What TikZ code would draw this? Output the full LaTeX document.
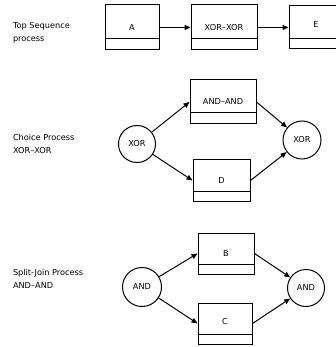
\documentclass[tikz,border=0pt]{standalone}
\usepackage{fontspec}
\setmainfont{DejaVu Sans}
\usetikzlibrary{arrows.meta}
\begin{document}
\begin{tikzpicture}[x=1pt,y=-1pt,
  font=\fontsize{8.2}{13}\selectfont,
  line width=1pt,
  task/.style={draw, rectangle, inner sep=0pt,
    path picture={\draw[line width=1pt] ([yshift=#1]path picture bounding box.south west) -- ([yshift=#1]path picture bounding box.south east);}},
  task/.default=11pt,
  gate/.style={draw, circle, inner sep=0pt, minimum size=38pt},
  arr/.style={-{Triangle[length=6pt,width=5pt]}},
  desc/.style={align=left, anchor=west, inner sep=0pt}]
\useasboundingbox (0,0) rectangle (335,347);

% left descriptions
\node[desc] (t1) at (12.5,32.5) {Top Sequence\\process};
\node[desc] (t2) at (12.5,143.5) {Choice Process\\XOR--XOR};
\node[desc] (t3) at (12.5,278.5) {Split-Join Process\\AND--AND};

% top sequence
\node[task, minimum width=54pt, minimum height=45pt] (A) at (132,27.5) {A};
\node[task, minimum width=66pt, minimum height=45pt] (XX) at (224,27.5) {XOR--XOR};
\node[task=10pt, minimum width=54pt, minimum height=43pt] (E) at (316,27.5) {\raisebox{5pt}{E}};
\draw[arr] (A) -- (XX);
\draw[arr] (XX) -- (E);

% choice process
\node[gate, minimum size=37pt] (x1) at (137,144) {XOR};
\node[task, minimum width=66pt, minimum height=44pt] (AA) at (223,102) {AND--AND};
\node[task=9.5pt, minimum width=57pt, minimum height=41pt] (D) at (221.5,180.5) {D};
\node[gate] (x2) at (302,140) {XOR};
\draw[arr] (x1) -- (AA.west);
\draw[arr] (x1) -- (D.west);
\draw[arr] (AA.east) -- (x2);
\draw[arr] (D.east) -- (x2);

% split-join process
\node[gate, minimum size=39pt] (a1) at (142,287) {AND};
\node[task=10pt, minimum width=56pt, minimum height=41pt] (B) at (226,253.5) {B};
\node[task=10pt, minimum width=54pt, minimum height=41pt] (C) at (225,323.5) {\raisebox{4pt}{C}};
\node[gate, minimum size=37pt] (a2) at (306,288) {AND};
\draw[arr] (a1) -- (B.west);
\draw[arr] (a1) -- (C.west);
\draw[arr] (B.east) -- (a2);
\draw[arr] (C.east) -- (a2);
\end{tikzpicture}
\end{document}
